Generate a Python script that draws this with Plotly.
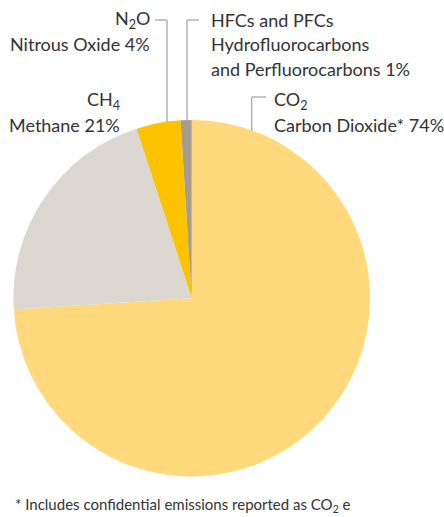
import plotly.graph_objects as go

W, H = 444, 517

labels = ["CO2", "CH4", "N2O", "HFCs and PFCs"]
values = [74, 21, 4, 1]
colors = ["#FFD97B", "#DCD7D1", "#FDC300", "#A69D8F"]

label_lines = {
    "CO2": ["CO<sub>2</sub>", "Carbon Dioxide* 74%"],
    "CH4": ["CH<sub>4</sub>", "Methane 21%"],
    "N2O": ["N<sub>2</sub>O", "Nitrous Oxide 4%"],
    "HFCs and PFCs": ["HFCs and PFCs", "Hydrofluorocarbons", "and Perfluorocarbons 1%"],
}
footnote = "* Includes confidential emissions reported as CO<sub>2</sub> e"

def px(x):
    return x / W

def py(y):
    return 1 - y / H

cx, cy, r = 191.7, 298.2, 178.3

fig = go.Figure(go.Pie(
    labels=labels, values=values, sort=False, direction="clockwise", rotation=0,
    marker=dict(colors=colors, line=dict(width=0)),
    textinfo="none", hoverinfo="label+percent", showlegend=False,
    domain=dict(x=[px(cx - r), px(cx + r)], y=[py(cy + r), py(cy - r)]),
))

FONT = dict(family="Lato, sans-serif", size=18, color="#333333")
FOOT_FONT = dict(family="Lato, sans-serif", size=15, color="#333333")
LINE = dict(color="#A8A8A8", width=1.3)

def add_text(lines, x, y0, anchor, font=FONT):
    for i, t in enumerate(lines):
        fig.add_annotation(x=px(x), y=py(y0 + i * 24.5), xref="paper", yref="paper",
                           text=t, showarrow=False, xanchor=anchor, yanchor="middle",
                           font=font)

add_text(label_lines["N2O"], 152, 20, "right")
add_text(label_lines["HFCs and PFCs"], 209, 20, "left")
add_text(label_lines["CH4"], 122, 100, "right")
add_text(label_lines["CO2"], 272, 100, "left")
add_text([footnote], 13, 505, "left", FOOT_FONT)

def seg(x0, y0, x1, y1):
    fig.add_shape(type="line", xref="paper", yref="paper",
                  x0=px(x0), y0=py(y0), x1=px(x1), y1=py(y1), line=LINE)

seg(155, 20, 167, 20); seg(167, 20, 167, 122)
seg(199, 20, 187, 20); seg(187, 20, 187, 120)
seg(266, 97, 251.7, 97); seg(251.7, 97, 251.7, 131)

fig.update_layout(width=W, height=H, margin=dict(l=0, r=0, t=0, b=0),
                  paper_bgcolor="white", plot_bgcolor="white")
fig.write_html("out.html")
